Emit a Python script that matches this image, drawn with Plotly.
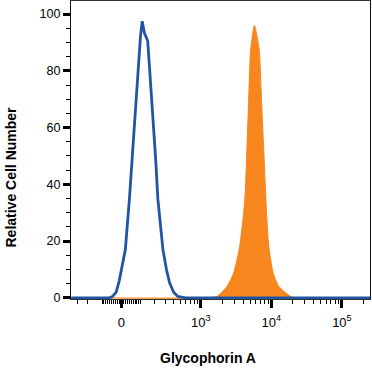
import numpy as np
import plotly.graph_objects as go

# ---- data (fluorescence intensity, relative cell number) ----
iso_x = [-370, -120, -60, -43, -25, -10, 5, 20, 40, 57, 80, 100, 110.6, 124, 146, 175, 205, 225, 250, 273, 310, 347, 400, 463, 600, 2000, 250000]
iso_y = [0, 0, 0, 0.5, 2, 6, 11, 17, 34.6, 52, 73, 92, 97.5, 93.4, 90.5, 70, 49.4, 34.6, 25, 16.9, 10, 5.3, 2, 0.5, 0, 0, 0]

gpa_x = [-370, 1200, 1690, 2348, 2918, 3555, 4057, 4290, 4780, 5100, 5766, 6730, 7260, 8280, 8560, 9230, 10660, 12820, 18830, 22000, 250000]
gpa_y = [0, 0, 0.5, 4, 8.7, 18, 30, 38, 70, 87.5, 96, 87.5, 70, 38, 30, 18, 8.7, 4, 0.5, 0, 0]

x_major_vals = [0, 1000, 10000, 100000]
x_major_text = ["0", "10<sup>3</sup>", "10<sup>4</sup>", "10<sup>5</sup>"]
x_minor_vals = ([-300, -200, -100] + [-v for v in range(10, 100, 10)] + list(range(10, 101, 10))
                + list(range(200, 1000, 100)) + list(range(2000, 10000, 1000))
                + list(range(20000, 100000, 10000)) + [200000])
x_range_vals = [-372, 250000]
y_major_vals = [0, 20, 40, 60, 80, 100]

COF = 150.0
def tr(v):
    return np.arcsinh(np.asarray(v, dtype=float) / COF)

fig = go.Figure()
fig.add_trace(go.Scatter(x=tr(gpa_x), y=gpa_y, mode="lines", fill="tozeroy",
                         line=dict(color="#f7861f", width=1, shape="spline", smoothing=0.6),
                         fillcolor="#f7861f", hoverinfo="skip"))
fig.add_trace(go.Scatter(x=tr(iso_x), y=iso_y, mode="lines",
                         line=dict(color="#1f55a5", width=2.8), hoverinfo="skip"))

font_family = "Liberation Sans, Arial, Helvetica, sans-serif"
fig.update_layout(
    width=372, height=373,
    margin=dict(l=71, r=2, t=1, b=74),
    paper_bgcolor="white", plot_bgcolor="white",
    showlegend=False,
    font=dict(family=font_family, size=12, color="black"),
    xaxis=dict(range=list(tr(x_range_vals)), showgrid=False, zeroline=False,
               tickmode="array", tickvals=list(tr(x_major_vals)), ticktext=x_major_text,
               ticks="outside", ticklen=8, tickwidth=2.5, tickcolor="black",
               showline=True, linecolor="#333", linewidth=1, mirror=True,
               tickfont=dict(size=13), ticklabelstandoff=3,
               minor=dict(tickmode="array", tickvals=list(tr(x_minor_vals)), ticks="outside",
                          ticklen=4, tickwidth=1, tickcolor="black", showgrid=False)),
    yaxis=dict(range=[-0.4, 104.6], showgrid=False, zeroline=False,
               tickmode="array", tickvals=y_major_vals,
               ticks="outside", ticklen=7, tickwidth=2.7, tickcolor="black",
               showline=True, linecolor="#111", linewidth=1.3, mirror=True,
               tickfont=dict(size=12.5),
               minor=dict(dtick=5, ticks="outside", ticklen=3.5, tickwidth=1, tickcolor="black",
                          showgrid=False)),
    annotations=[
        dict(text="<b>Glycophorin A</b>", x=208, y=373 - 358, xref="paper", yref="paper",
             showarrow=False, font=dict(size=14, family=font_family)),
        dict(text="<b>Relative Cell Number</b>", x=10.5, y=373 - 177, xref="paper", yref="paper",
             showarrow=False, textangle=-90, font=dict(size=14, family=font_family)),
    ],
)
# convert annotation pixel positions to paper coordinates
pw, ph = 372 - 71 - 2, 373 - 1 - 74
for a in fig.layout.annotations:
    a.x = (a.x - 71) / pw
    a.y = (a.y - 74) / ph
    a.xanchor = "center"; a.yanchor = "middle"

fig.write_html("out.html", config={"displayModeBar": False},
               post_script="document.body.style.margin='0';document.body.style.padding='0';")
